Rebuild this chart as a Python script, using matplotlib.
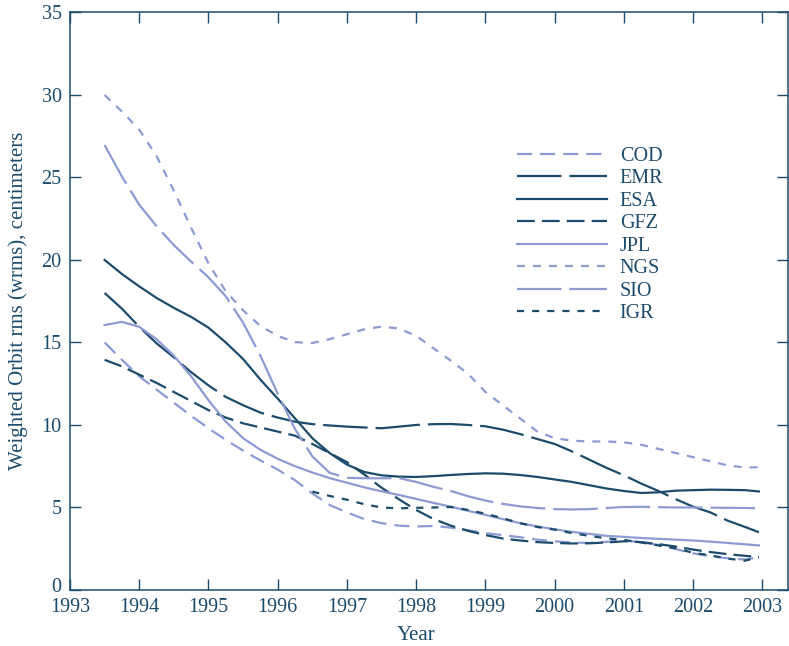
"""Weighted orbit rms of the IGS analysis centres, 1993-2003."""

import matplotlib
matplotlib.use("Agg")
import matplotlib.pyplot as plt
import matplotlib.transforms as mtransforms
import numpy as np


YEARS = [
    1993.5, 1993.75, 1994.0, 1994.25, 1994.5, 1994.75, 1995.0, 1995.25,
    1995.5, 1995.75, 1996.0, 1996.25, 1996.5, 1996.75, 1997.0, 1997.25,
    1997.5, 1997.75, 1998.0, 1998.25, 1998.5, 1998.75, 1999.0, 1999.25,
    1999.5, 1999.75, 2000.0, 2000.25, 2000.5, 2000.75, 2001.0, 2001.25,
    2001.5, 2001.75, 2002.0, 2002.25, 2002.5, 2002.75, 2002.95,
]
IGR_YEARS = YEARS[12:]

COD = [
    15.0, 13.95, 12.95, 12.15, 11.35, 10.55, 9.8, 9.1,
    8.45, 7.85, 7.3, 6.65, 5.85, 5.15, 4.7, 4.3,
    4.05, 3.9, 3.85, 3.88, 3.78, 3.62, 3.45, 3.32,
    3.2, 3.05, 2.95, 2.88, 2.85, 2.92, 3.0, 2.9,
    2.72, 2.48, 2.22, 2.05, 1.92, 1.85, 1.98,
]
EMR = [
    18.0, 17.05, 15.95, 14.95, 14.1, 13.2, 12.4, 11.7,
    11.2, 10.75, 10.45, 10.2, 10.05, 9.97, 9.9, 9.85,
    9.8, 9.9, 10.0, 10.05, 10.06, 10.0, 9.92, 9.72,
    9.45, 9.15, 8.85, 8.4, 7.9, 7.4, 6.95, 6.45,
    6.0, 5.5, 5.05, 4.7, 4.2, 3.82, 3.5,
]
ESA = [
    20.0, 19.15, 18.4, 17.7, 17.1, 16.55, 15.9, 15.0,
    14.0, 12.75, 11.6, 10.4, 9.2, 8.3, 7.6, 7.15,
    6.95, 6.87, 6.85, 6.9, 6.97, 7.03, 7.07, 7.05,
    6.97, 6.85, 6.7, 6.55, 6.35, 6.15, 6.0, 5.88,
    5.92, 6.02, 6.05, 6.08, 6.07, 6.05, 5.97,
]
GFZ = [
    13.95, 13.55, 13.05, 12.55, 12.0, 11.45, 10.9, 10.45,
    10.1, 9.85, 9.6, 9.35, 8.85, 8.3, 7.75, 7.0,
    6.2, 5.5, 4.85, 4.3, 3.9, 3.58, 3.33, 3.12,
    3.0, 2.9, 2.85, 2.82, 2.83, 2.88, 2.95, 2.9,
    2.78, 2.63, 2.45, 2.3, 2.17, 2.07, 2.0,
]
JPL = [
    16.06, 16.25, 15.95, 15.2, 14.2, 12.95, 11.5, 10.2,
    9.2, 8.5, 7.95, 7.5, 7.12, 6.78, 6.5, 6.22,
    5.98, 5.76, 5.52, 5.28, 5.05, 4.8, 4.55, 4.3,
    4.05, 3.85, 3.68, 3.52, 3.4, 3.28, 3.22, 3.15,
    3.1, 3.05, 3.0, 2.93, 2.85, 2.77, 2.7,
]
NGS = [
    30.0, 29.0, 27.9, 26.3, 24.2, 21.95, 19.8, 18.1,
    16.95, 16.0, 15.4, 15.02, 14.97, 15.2, 15.5, 15.8,
    15.96, 15.85, 15.4, 14.65, 13.9, 13.1, 12.0, 11.2,
    10.4, 9.6, 9.2, 9.05, 9.0, 9.0, 8.95, 8.8,
    8.55, 8.3, 8.05, 7.8, 7.55, 7.42, 7.44,
]
SIO = [
    26.97, 25.05, 23.35, 22.05, 20.9, 19.9, 18.95, 17.8,
    16.2, 14.2, 11.9, 9.75, 8.1, 7.1, 6.8, 6.77,
    6.77, 6.78, 6.55, 6.25, 6.0, 5.68, 5.42, 5.22,
    5.07, 4.97, 4.9, 4.88, 4.9, 4.97, 5.03, 5.04,
    5.02, 5.0, 5.0, 4.99, 4.98, 4.97, 4.95,
]
IGR = [
    5.96, 5.7, 5.47, 5.2, 5.0, 4.95, 4.98, 5.0,
    5.03, 4.85, 4.62, 4.35, 4.05, 3.82, 3.66, 3.45,
    3.28, 3.13, 3.03, 2.88, 2.7, 2.53, 2.25, 2.1,
    1.9, 1.78, 1.98,
]
XTICKS = list(range(1993, 2004))
YTICKS = [0, 5, 10, 15, 20, 25, 30, 35]

DARK = "#1d4b6b"
LIGHT = "#8d9bd2"
LW = 1.6


def main() -> None:
    plt.rcParams["font.family"] = ["Liberation Serif", "DejaVu Serif"]
    fig = plt.figure(figsize=(7.89, 6.46), dpi=100)
    ax = fig.add_axes([0.0887, 0.0867, 0.9100, 0.8940])

    series = [
        ("COD", YEARS, COD, LIGHT, (0, (6.8, 3.6))),
        ("EMR", YEARS, EMR, DARK, (0, (20.0, 3.6))),
        ("ESA", YEARS, ESA, DARK, "-"),
        ("GFZ", YEARS, GFZ, DARK, (0, (8.0, 3.2))),
        ("JPL", YEARS, JPL, LIGHT, "-"),
        ("NGS", YEARS, NGS, LIGHT, (0, (3.6, 3.6))),
        ("SIO", YEARS, SIO, LIGHT, (0, (20.0, 3.6))),
        ("IGR", IGR_YEARS, IGR, DARK, (0, (3.2, 3.6))),
    ]
    for name, xs, ys, color, style in series:
        ax.plot(xs, ys, color=color, lw=LW, linestyle=style, label=name)

    ax.set_xlim(1993, 2003.37)
    ax.set_ylim(0, 35)
    ax.set_xticks(XTICKS)
    ax.set_yticks(YTICKS)
    ax.tick_params(axis="both", which="both", direction="in", length=8,
                   width=1.0, color=DARK, labelcolor=DARK, labelsize=14.5,
                   top=True, right=True, pad=6)
    for spine in ax.spines.values():
        spine.set_color(DARK)
        spine.set_linewidth(1.1)

    # the "0" label sits a little higher so it clears "1993"
    fig.canvas.draw()
    zero = ax.get_yticklabels()[0]
    zero.set_transform(zero.get_transform() + mtransforms.ScaledTranslation(
        0, 3.5 / 72, fig.dpi_scale_trans))

    ax.set_xlabel("Year", fontsize=15, color=DARK)
    ax.xaxis.set_label_coords(5 / 10.37, -0.063)
    ax.set_ylabel("Weighted Orbit rms (wrms), centimeters", fontsize=15,
                  color=DARK)
    ax.yaxis.set_label_coords(-0.058, 0.5)

    leg = ax.legend(loc="upper left", bbox_to_anchor=(0.6226, 0.768),
                    frameon=False, fontsize=14.5, handlelength=4.45,
                    handletextpad=0.65, labelspacing=0.17, borderpad=0,
                    borderaxespad=0)
    for text in leg.get_texts():
        text.set_color(DARK)

    fig.savefig("out.png", dpi=100)
    plt.close(fig)


if __name__ == "__main__":
    main()
